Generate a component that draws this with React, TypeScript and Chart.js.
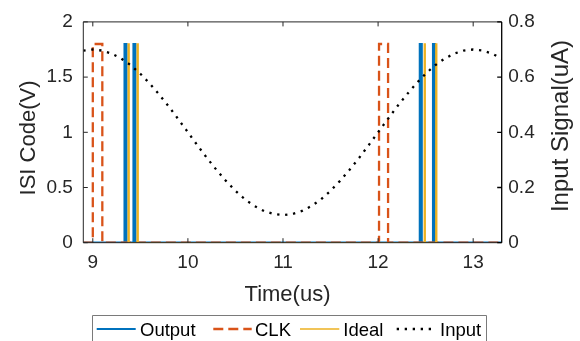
import React, { useEffect, useRef } from "react";
import { Chart, registerables } from "chart.js";

Chart.register(...registerables);

// ---- data ----
const outputTimes = [8.9, 9.334, 9.334, 9.354, 9.354, 9.428, 9.428, 9.448, 9.448, 12.439, 12.439, 12.459, 12.459, 12.578, 12.578, 12.598, 12.598, 13.3];
const outputValues = [0, 0, 1.8, 1.8, 0, 0, 1.8, 1.8, 0, 0, 1.8, 1.8, 0, 0, 1.8, 1.8, 0, 0];

const clkTimes = [8.9, 9.0, 9.0, 9.1, 9.1, 12.01, 12.01, 12.105, 12.105, 13.3];
const clkValues = [0, 0, 1.8, 1.8, 0, 0, 1.8, 1.8, 0, 0];

const idealTimes = [9.373, 9.373, 9.381, 9.381, 9.468, 9.468, 9.476, 9.476, 12.487, 12.487, 12.495, 12.495, 12.608, 12.608, 12.616, 12.616];
const idealValues = [0, 1.8, 1.8, 0, 0, 1.8, 1.8, 0, 0, 1.8, 1.8, 0, 0, 1.8, 1.8, 0];

const inputTimes = [8.9, 9.0, 9.1, 9.2, 9.3, 9.4, 9.5, 9.6, 9.7, 9.8, 9.9, 10.0, 10.1, 10.2, 10.3, 10.4, 10.5, 10.6, 10.7, 10.8, 10.9, 11.0, 11.1, 11.2, 11.3, 11.4, 11.5, 11.6, 11.7, 11.8, 11.9, 12.0, 12.1, 12.2, 12.3, 12.4, 12.5, 12.6, 12.7, 12.8, 12.9, 13.0, 13.1, 13.2, 13.3];
const inputValues = [0.696, 0.7, 0.696, 0.685, 0.667, 0.643, 0.612, 0.576, 0.536, 0.493, 0.447, 0.4, 0.353, 0.307, 0.264, 0.224, 0.188, 0.157, 0.133, 0.115, 0.104, 0.1, 0.104, 0.115, 0.133, 0.157, 0.188, 0.224, 0.264, 0.307, 0.353, 0.4, 0.447, 0.493, 0.536, 0.576, 0.612, 0.643, 0.667, 0.685, 0.696, 0.7, 0.696, 0.685, 0.667];

const xTicks = [9, 10, 11, 12, 13];
const yTicks = [0, 0.5, 1, 1.5, 2];
const y1Ticks = [0, 0.2, 0.4, 0.6, 0.8];

const seriesLabels = ["Output", "CLK", "Ideal", "Input"];
const xTitle = "Time(us)";
const yTitle = "ISI Code(V)";
const y1Title = "Input Signal(uA)";

const FONT = "'Liberation Sans', Arial, sans-serif";
const TXT = "#262626";

const pts = (xs: number[], ys: number[]) => xs.map((x, i) => ({ x, y: ys[i] }));
const fixTicks = (vals: number[]) => (s: any) => { s.ticks = vals.map((v) => ({ value: v })); };
const fmt = (v: any) => String(Number(Number(v).toFixed(2)));

const decor = {
  id: "decor",
  afterDraw(chart: any) {
    const { ctx, chartArea: a, scales } = chart;
    const x = scales.x, y = scales.y, y1 = scales.y1;
    const tl = 4.5;
    ctx.save();
    ctx.setLineDash([]);
    ctx.lineWidth = 1;
    ctx.strokeStyle = TXT;
    ctx.beginPath();
    ctx.moveTo(a.left, a.top); ctx.lineTo(a.right, a.top);
    ctx.moveTo(a.left, a.top); ctx.lineTo(a.left, a.bottom);
    ctx.moveTo(a.left, a.bottom); ctx.lineTo(a.right, a.bottom);
    x.ticks.forEach((t: any) => {
      const px = x.getPixelForValue(t.value);
      ctx.moveTo(px, a.bottom); ctx.lineTo(px, a.bottom - tl);
      ctx.moveTo(px, a.top); ctx.lineTo(px, a.top + tl);
    });
    y.ticks.forEach((t: any) => {
      const py = y.getPixelForValue(t.value);
      ctx.moveTo(a.left, py); ctx.lineTo(a.left + tl, py);
    });
    ctx.stroke();
    ctx.strokeStyle = "#000";
    ctx.lineWidth = 1.3;
    ctx.beginPath();
    ctx.moveTo(a.right, a.top); ctx.lineTo(a.right, a.bottom);
    y1.ticks.forEach((t: any) => {
      const py = y1.getPixelForValue(t.value);
      ctx.moveTo(a.right, py); ctx.lineTo(a.right - tl, py);
    });
    ctx.stroke();

    // axis titles
    ctx.fillStyle = TXT;
    ctx.font = `22px ${FONT}`;
    ctx.textAlign = "center";
    ctx.textBaseline = "alphabetic";
    ctx.fillText(xTitle, 287.5, 301);
    ctx.save();
    ctx.translate(35, 138);
    ctx.rotate(-Math.PI / 2);
    ctx.fillText(yTitle, 0, 0);
    ctx.restore();
    ctx.save();
    ctx.font = `24px ${FONT}`;
    ctx.translate(568, 126);
    ctx.rotate(-Math.PI / 2);
    ctx.fillText(y1Title, 0, 0);
    ctx.restore();

    // legend
    const ds = chart.data.datasets;
    ctx.lineWidth = 1;
    ctx.strokeStyle = "#7a7a7a";
    ctx.fillStyle = "#fff";
    ctx.beginPath();
    ctx.rect(92.5, 315.5, 394, 40);
    ctx.fill();
    ctx.stroke();
    const items = [
      { x0: 96.7, x1: 135.7, tx: 140 },
      { x0: 213.3, x1: 251.7, tx: 255 },
      { x0: 300, x1: 339.3, tx: 343.3 },
      { x0: 396.7, x1: 431.7, tx: 440 },
    ];
    ctx.font = `18.5px ${FONT}`;
    ctx.textAlign = "left";
    items.forEach((it, i) => {
      const d = ds[i];
      ctx.strokeStyle = d.borderColor;
      ctx.lineWidth = d.borderWidth;
      ctx.setLineDash(d.borderDash || []);
      ctx.beginPath();
      ctx.moveTo(it.x0, 329);
      ctx.lineTo(it.x1, 329);
      ctx.stroke();
      ctx.setLineDash([]);
      ctx.fillStyle = "#000";
      ctx.fillText(d.label, it.tx, 335.5);
    });
    ctx.restore();
  },
};

export default function App() {
  const ref = useRef<HTMLCanvasElement | null>(null);
  useEffect(() => {
    document.body.style.margin = "0";
    const canvas = ref.current!;
    const tickFont = { family: FONT, size: 19 };
    const chart = new Chart(canvas, {
      type: "line",
      data: {
        datasets: [
          { label: seriesLabels[0], data: pts(outputTimes, outputValues), borderColor: "#0072BD", borderWidth: 2.2, yAxisID: "y", order: 4 },
          { label: seriesLabels[1], data: pts(clkTimes, clkValues), borderColor: "#D95319", borderWidth: 2.3, borderDash: [10, 5], yAxisID: "y", order: 3 },
          { label: seriesLabels[2], data: pts(idealTimes, idealValues), borderColor: "#EDB120", borderWidth: 1.6, yAxisID: "y", order: 2 },
          { label: seriesLabels[3], data: pts(inputTimes, inputValues), borderColor: "#000000", borderWidth: 2.3, borderDash: [2.3, 5.7], yAxisID: "y1", order: 1 },
        ] as any,
      },
      options: {
        responsive: false,
        animation: false,
        devicePixelRatio: 1,
        elements: {
          point: { radius: 0, hoverRadius: 0 },
          line: { tension: 0, fill: false, borderCapStyle: "butt", borderJoinStyle: "miter" },
        },
        layout: { padding: { top: 17.7, left: 0, right: 0, bottom: 36 } },
        plugins: { legend: { display: false }, tooltip: { enabled: false }, title: { display: false } },
        scales: {
          x: {
            type: "linear",
            min: 8.9,
            max: 13.3,
            grid: { display: false, drawTicks: false },
            border: { display: false },
            ticks: { font: tickFont, color: TXT, padding: 9, maxRotation: 0, autoSkip: false, callback: fmt },
            afterBuildTicks: fixTicks(xTicks),
            afterFit: (s: any) => { s.height = 62.3; },
          },
          y: {
            type: "linear",
            position: "left",
            min: 0,
            max: 2,
            grid: { display: false, drawTicks: false },
            border: { display: false },
            ticks: { font: tickFont, color: TXT, padding: 10.5, autoSkip: false, callback: fmt },
            afterBuildTicks: fixTicks(yTicks),
            afterFit: (s: any) => { s.width = 83.3; },
          },
          y1: {
            type: "linear",
            position: "right",
            min: 0,
            max: 0.8,
            grid: { display: false, drawTicks: false },
            border: { display: false },
            ticks: { font: tickFont, color: TXT, padding: 6.6, autoSkip: false, callback: fmt },
            afterBuildTicks: fixTicks(y1Ticks),
            afterFit: (s: any) => { s.width = 78.3; },
          },
        },
      } as any,
      plugins: [decor],
    });
    return () => chart.destroy();
  }, []);
  return (
    <div style={{ position: "fixed", left: 0, top: 0, width: 580, height: 341, background: "#fff" }}>
      <canvas ref={ref} width={580} height={341} style={{ width: 580, height: 341, display: "block" }} />
    </div>
  );
}
